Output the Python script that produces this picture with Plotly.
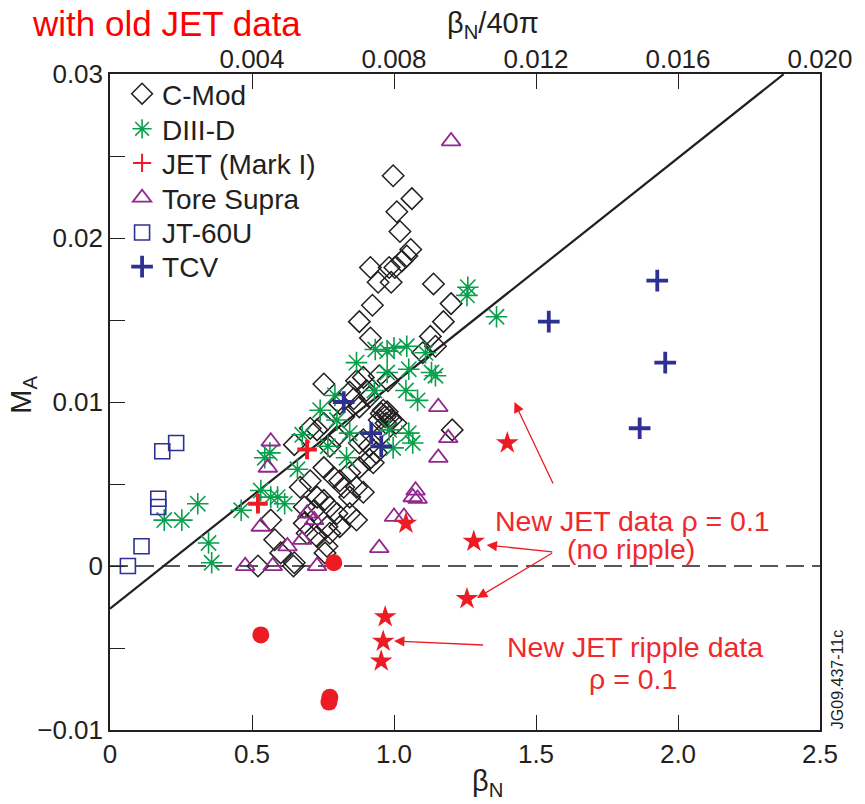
import plotly.graph_objects as go

# ---------------- data (beta_N, M_A) ----------------
cmod_beta = [0.997,1.063,1.010,1.021,1.059,1.045,1.028,1.003,0.983,0.917,
             0.944,0.990,1.139,1.201,0.924,0.878,1.174,1.128,0.917,0.753,
             0.892,0.948,0.979,0.868,0.844,0.903,0.913,0.878,0.823,0.962,
             0.983,1.007,0.972,0.948,0.753,0.729,0.649,1.205,0.962,0.892,
             0.913,0.938,0.799,0.774,0.878,0.913,0.878,0.927,0.844,0.809,
             0.753,0.788,0.705,0.670,0.868,0.892,0.823,0.844,0.753,0.774,
             0.729,0.719,0.684,0.799,0.844,0.868,0.809,0.764,0.729,0.774,
             0.764,0.684,0.694,0.566,0.580,0.601,0.649,0.521,1.101,1.146,
             0.809,0.858,0.705,0.646,0.757,0.955,0.969,0.990,0.976]
cmod_MA = [0.0238,0.0224,0.0216,0.0204,0.0193,0.0189,0.0186,0.0182,0.0182,0.0182,
           0.0173,0.0173,0.0172,0.0160,0.0159,0.0149,0.0149,0.0140,0.0139,0.0111,
           0.0115,0.0116,0.0113,0.0113,0.0106,0.0107,0.0103,0.0097,0.0091,0.0095,
           0.0091,0.0087,0.0087,0.0089,0.0087,0.0083,0.0074,0.0083,0.0081,0.0077,
           0.0073,0.0069,0.0079,0.0073,0.0075,0.0065,0.0060,0.0063,0.0057,0.0052,
           0.0060,0.0054,0.0052,0.0048,0.0048,0.0045,0.0048,0.0042,0.0040,0.0036,
           0.0042,0.0034,0.0036,0.0032,0.0032,0.0028,0.0024,0.0024,0.0018,0.0020,
           0.0012,0.0026,0.0020,0.0028,0.0016,0.0008,0.0002,0.0000,0.0130,0.0134,
           0.0099,0.0102,0.0084,0.0000,0.0008,0.0093,0.0091,0.0089,0.0094]

d3d_beta = [0.191,0.253,0.309,0.347,0.358,0.462,0.531,0.566,0.615,0.590,
            0.563,0.545,0.660,0.677,0.740,0.767,0.792,0.833,0.844,0.799,
            0.868,0.934,0.976,1.000,1.045,1.111,1.132,1.052,0.976,0.931,
            1.042,1.083,0.983,1.052,1.066,0.997,1.260,1.257,1.361,1.146]
d3d_MA = [0.0028,0.0028,0.0038,0.0014,0.0002,0.0034,0.0046,0.0042,0.0038,0.0042,
          0.0069,0.0066,0.0059,0.0080,0.0095,0.0073,0.0104,0.0066,0.0081,0.0089,
          0.0124,0.0132,0.0131,0.0133,0.0134,0.0130,0.0118,0.0120,0.0118,0.0107,
          0.0107,0.0101,0.0083,0.0081,0.0075,0.0072,0.0170,0.0165,0.0152,0.0116]

jet_beta = [0.521, 0.694]
jet_MA = [0.0038, 0.0071]

ts_beta = [1.201,0.566,0.556,1.156,1.191,1.156,1.076,1.066,1.083,1.000,
           1.035,0.694,0.719,0.625,0.677,0.948,0.531,0.476,0.573,0.729]
ts_MA = [0.0259,0.0076,0.0060,0.0097,0.0078,0.0066,0.0046,0.0042,0.0041,0.0030,
         0.0030,0.0032,0.0028,0.0012,0.0016,0.0011,0.0024,0.0000,0.0000,0.0000]

jt60_beta = [0.063, 0.111, 0.170, 0.170, 0.184, 0.233]
jt60_MA = [0.0000, 0.0012, 0.0041, 0.0036, 0.0070, 0.0075]

tcv_beta = [0.823, 0.920, 0.955, 1.927, 1.545, 1.955, 1.865]
tcv_MA = [0.0100, 0.0081, 0.0073, 0.0174, 0.0149, 0.0124, 0.0084]

newjet_star_beta = [1.399, 1.281, 1.257, 1.042, 0.969, 0.962, 0.955]
newjet_star_MA = [0.0075, 0.0015, -0.0020, 0.0026, -0.0031, -0.0046, -0.0058]

newjet_dot_beta = [0.788, 0.531, 0.774, 0.771]
newjet_dot_MA = [0.0002, -0.0042, -0.0080, -0.0083]

fit_intercept = -0.0026
fit_slope = 0.01374
fit_beta = [0.0, 2.372]
fit_MA = [fit_intercept + fit_slope * b for b in fit_beta]

zero_beta = [0.0, 2.5]
zero_MA = [0.0, 0.0]

x_ticks = [0, 0.5, 1.0, 1.5, 2.0, 2.5]
x_ticktext = ["0", "0.5", "1.0", "1.5", "2.0", "2.5"]
y_ticks = [-0.01, -0.005, 0, 0.005, 0.01, 0.015, 0.02, 0.025, 0.03]
y_ticktext = ["\u22120.01", "", "0", "", "0.01", "", "0.02", "", "0.03"]
top_ticks = [0.004, 0.008, 0.012, 0.016, 0.020]
top_ticktext = ["0.004", "0.008", "0.012", "0.016", "0.020"]

# ---------------- styles ----------------
INK = "#231f20"
GREEN = "#0a9f4c"
RED = "#ed1c24"
PURPLE = "#92278f"
NAVY = "#2e3192"
FONT = "Liberation Sans, Arial, Helvetica, sans-serif"

fig = go.Figure()

fig.add_trace(go.Scatter(x=zero_beta, y=zero_MA, mode="lines", showlegend=False,
                         line=dict(color=INK, width=1.3, dash="18px,8px")))
fig.add_trace(go.Scatter(x=fit_beta, y=fit_MA, mode="lines", showlegend=False,
                         line=dict(color=INK, width=2.2)))

# (name, x, y, plot marker, legend marker or None)
series = [
    ("C-Mod", cmod_beta, cmod_MA,
     dict(symbol="diamond-open", size=16.5, color=INK, line=dict(color=INK, width=1.5)),
     None),
    ("DIII-D", d3d_beta, d3d_MA,
     dict(symbol="asterisk-open", size=18, color=GREEN, line=dict(color=GREEN, width=1.6)),
     None),
    ("JET (Mark I)", jet_beta, jet_MA,
     dict(symbol="cross-thin-open", size=14, color=RED, line=dict(color=RED, width=4)),
     dict(symbol="cross-thin-open", size=13, color=RED, line=dict(color=RED, width=2))),
    ("Tore Supra", ts_beta, ts_MA,
     dict(symbol="triangle-up-open", size=16.5, color=PURPLE, line=dict(color=PURPLE, width=1.8)),
     None),
    ("JT-60U", jt60_beta, jt60_MA,
     dict(symbol="square-open", size=15, color=NAVY, line=dict(color=NAVY, width=1.6)),
     None),
    ("TCV", tcv_beta, tcv_MA,
     dict(symbol="cross-thin-open", size=15.5, color=NAVY, line=dict(color=NAVY, width=3.8)),
     None),
]
legend_names = ["legend", "legend2", "legend3", "legend4", "legend5", "legend6"]
legend_rows = [0.9695, 0.916, 0.864, 0.811, 0.758, 0.706]

for (name, xs, ys, mk, lmk), lg in zip(series, legend_names):
    if lmk is None:
        fig.add_trace(go.Scatter(x=xs, y=ys, mode="markers", name=name, legend=lg,
                                 marker=mk))
    else:
        fig.add_trace(go.Scatter(x=xs, y=ys, mode="markers", name=name,
                                 showlegend=False, marker=mk))
        fig.add_trace(go.Scatter(x=[None], y=[None], mode="markers", name=name,
                                 legend=lg, marker=lmk))

fig.add_trace(go.Scatter(x=newjet_star_beta, y=newjet_star_MA, mode="markers",
                         showlegend=False,
                         marker=dict(symbol="star", size=17, color=RED,
                                     line=dict(width=0))))
fig.add_trace(go.Scatter(x=newjet_dot_beta, y=newjet_dot_MA, mode="markers",
                         showlegend=False,
                         marker=dict(symbol="circle", size=17, color=RED,
                                     line=dict(width=0))))
# invisible trace to activate the top axis
fig.add_trace(go.Scatter(x=[0, 0.02], y=[0, 0], xaxis="x2", mode="markers",
                         showlegend=False, hoverinfo="skip",
                         marker=dict(size=1, opacity=0)))

ann_color = "#ee2a2e"
annotations = [
    dict(text="with old JET data", xref="paper", yref="paper",
         x=-0.113, y=1.0775, xanchor="left", yanchor="middle", showarrow=False,
         font=dict(size=35, color="#ff0000", family=FONT)),
    dict(text="\u03b2<sub>N</sub>", xref="paper", yref="paper", x=0.532, y=-0.081,
         xanchor="center", yanchor="middle", showarrow=False,
         font=dict(size=29, color=INK, family=FONT)),
    dict(text="\u03b2<sub>N</sub>/40\u03c0", xref="paper", yref="paper", x=0.540, y=1.0747,
         xanchor="center", yanchor="middle", showarrow=False,
         font=dict(size=29, color=INK, family=FONT)),
    dict(text="M<sub>A</sub>", xref="paper", yref="paper", x=-0.1226, y=0.511,
         xanchor="center", yanchor="middle", textangle=-90, showarrow=False,
         font=dict(size=29, color=INK, family=FONT)),
    dict(text="New JET data \u03c1 = 0.1", x=1.84, y=0.00276, showarrow=False,
         font=dict(size=28.5, color=ann_color, family=FONT)),
    dict(text="(no ripple)", x=1.835, y=0.00106, showarrow=False,
         font=dict(size=28.5, color=ann_color, family=FONT)),
    dict(text="New JET ripple data", x=1.85, y=-0.00494, showarrow=False,
         font=dict(size=28.5, color=ann_color, family=FONT)),
    dict(text="\u03c1 = 0.1", x=1.84, y=-0.00689, showarrow=False,
         font=dict(size=28.5, color=ann_color, family=FONT)),
    dict(text="JG09.437-11c", xref="paper", yref="paper", x=1.024, y=0.076,
         textangle=-90, showarrow=False, xanchor="center", yanchor="middle",
         font=dict(size=16, color=INK, family=FONT)),
]
arrows = [
    (1.424, 0.0100, 1.5625, 0.00494),
    (1.326, 0.00128, 1.5625, 0.00085),
    (1.292, -0.00195, 1.5625, 0.00085),
    (1.000, -0.00457, 1.319, -0.00482),
]
for hx, hy, tx, ty in arrows:
    annotations.append(dict(x=hx, y=hy, ax=tx, ay=ty, xref="x", yref="y",
                            axref="x", ayref="y", text="", showarrow=True,
                            arrowhead=2, arrowsize=1.6, arrowwidth=1.3,
                            arrowcolor=RED))

layout_legends = {}
for lg, yrow in zip(legend_names, legend_rows):
    layout_legends[lg] = dict(x=0.017, y=yrow, xanchor="left", yanchor="middle",
                              bgcolor="rgba(0,0,0,0)", borderwidth=0,
                              font=dict(size=28, color=INK, family=FONT),
                              itemsizing="trace")

fig.update_layout(
    width=865, height=804,
    margin=dict(l=110, r=37, t=74, b=74),
    paper_bgcolor="white", plot_bgcolor="white",
    font=dict(family=FONT, color=INK, size=26),
    xaxis=dict(range=[0, 2.5], tickvals=x_ticks, ticktext=x_ticktext,
               ticks="inside", ticklen=15, tickwidth=1.3, tickcolor=INK,
               showline=True, linecolor=INK, linewidth=1.5, mirror=True,
               showgrid=False, zeroline=False,
               tickfont=dict(size=26, color=INK)),
    xaxis2=dict(range=[0, 0.02], overlaying="x", side="top",
                tickvals=top_ticks, ticktext=top_ticktext,
                ticks="inside", ticklen=15, tickwidth=1.3, tickcolor=INK,
                showline=False, showgrid=False, zeroline=False,
                tickfont=dict(size=26, color=INK)),
    yaxis=dict(range=[-0.01, 0.03], tickvals=y_ticks, ticktext=y_ticktext,
               ticks="inside", ticklen=15, tickwidth=1.3, tickcolor=INK,
               showline=True, linecolor=INK, linewidth=1.5, mirror=True,
               showgrid=False, zeroline=False,
               tickfont=dict(size=26, color=INK)),
    annotations=annotations,
    showlegend=True,
    **layout_legends,
)

fig.write_html("out.html")
